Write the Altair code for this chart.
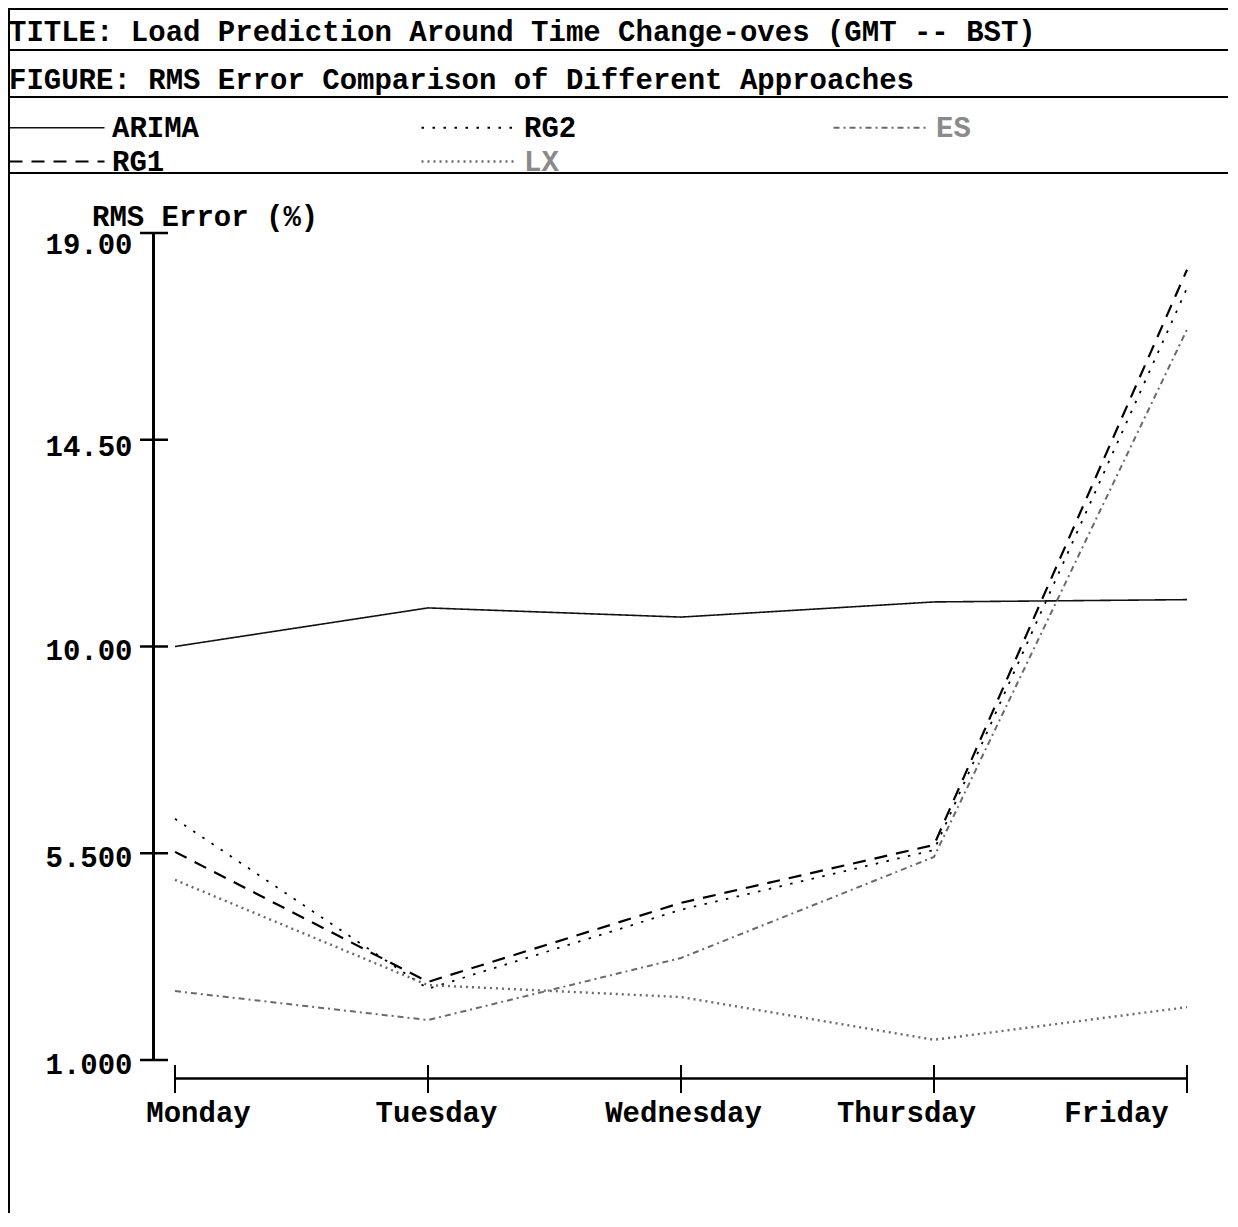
import altair as alt
import pandas as pd

# ---------------- data ----------------
days = ["Monday", "Tuesday", "Wednesday", "Thursday", "Friday"]
series_names = ["ARIMA", "RG2", "ES", "RG1", "LX"]
arima = [10.0, 10.84, 10.64, 10.97, 11.02]
rg1 = [5.53, 2.70, 4.42, 5.68, 18.2]
rg2 = [6.25, 2.55, 4.27, 5.57, 17.8]
es = [2.50, 1.87, 3.22, 5.42, 16.9]
lx = [4.92, 2.63, 2.37, 1.44, 2.15]
y_ticks = [1.0, 5.5, 10.0, 14.5, 19.0]

title_text = "TITLE: Load Prediction Around Time Change-oves (GMT -- BST)"
figure_text = "FIGURE: RMS Error Comparison of Different Approaches"
y_title = "RMS Error (%)"

values = {"ARIMA": arima, "RG1": rg1, "RG2": rg2, "ES": es, "LX": lx}
rows = []
for name, vals in values.items():
    for d, v in zip(days, vals):
        rows.append({"series": name, "day": d, "value": v})
df = pd.DataFrame(rows)

# ---------------- styles ----------------
FONT = "Courier New, Liberation Mono, monospace"
FS = 29
W, H = 1012, 827
PL, PT, PR, PB = 167, 225, 41, 153

colors = ["#111111", "#000000", "#6a6a6a", "#000000", "#6a6a6a"]
dashes = [[1, 0], [2.5, 8.5], [6, 4, 2, 4], [13, 9], [2, 4]]
widths = [1.6, 2.4, 1.5, 2.4, 1.5]

legend = alt.Legend(
    title=None, orient="none", legendX=-167, legendY=-120,
    direction="horizontal", columns=3, columnPadding=220, rowPadding=4,
    symbolType="stroke", symbolSize=9025, symbolStrokeWidth=2,
    labelFont=FONT, labelFontSize=FS, labelFontWeight="bold", labelOffset=6,
    labelLimit=400, clipHeight=29, padding=0, gridAlign="all",
    labelColor={"expr": "(datum.value == 'ES' || datum.value == 'LX') ? '#8a8a8a' : '#000000'"},
)

xaxis = alt.Axis(
    title=None, offset=18, domainWidth=2.5, domainColor="black", ticks=False, grid=False,
    labelFont=FONT, labelFontSize=FS, labelFontWeight="bold", labelColor="black",
    labelPadding=20, labelAngle=0,
    labelOffset={"expr": "datum.value == 'Monday' ? 23 : datum.value == 'Tuesday' ? 8 : datum.value == 'Wednesday' ? 2 : datum.value == 'Thursday' ? -28 : -71"},
)
yaxis = alt.Axis(
    title=None, offset=22, values=y_ticks, format=".4r", domainWidth=3, domainColor="black",
    ticks=False, grid=False, labelFont=FONT, labelFontSize=FS, labelFontWeight="bold",
    labelColor="black", labelPadding=21,
    labelOffset={"expr": "datum.value == 19 ? 11 : datum.value == 14.5 ? 7 : 4"},
    labelFlush=False, labelOverlap=False, labelBaseline="middle",
)

xscale = alt.Scale(type="point", padding=0)
yscale = alt.Scale(domain=[1, 19], nice=False, zero=False)

lines = alt.Chart(df).mark_line().encode(
    x=alt.X("day:N", sort=days, scale=xscale, axis=xaxis),
    y=alt.Y("value:Q", scale=yscale, axis=yaxis),
    color=alt.Color("series:N", scale=alt.Scale(domain=series_names, range=colors), legend=legend),
    strokeDash=alt.StrokeDash("series:N", scale=alt.Scale(domain=series_names, range=dashes), legend=legend),
    strokeWidth=alt.StrokeWidth("series:N", scale=alt.Scale(domain=series_names, range=widths), legend=None),
)

ytick_layer = alt.Chart(pd.DataFrame({"value": y_ticks})).mark_rule(
    strokeWidth=2.5, color="black"
).encode(y=alt.Y("value:Q", scale=yscale, axis=yaxis), x=alt.value(-35), x2=alt.value(-7))

xtick_layer = alt.Chart(pd.DataFrame({"day": days})).mark_rule(
    strokeWidth=2, color="black"
).encode(x=alt.X("day:N", sort=days, scale=xscale, axis=xaxis), y=alt.value(832), y2=alt.value(860))


def text_layer(txt, x, y, baseline="middle"):
    return alt.Chart(pd.DataFrame({"t": [txt]})).mark_text(
        align="left", baseline=baseline, font=FONT, fontSize=FS, fontWeight="bold", color="black"
    ).encode(text="t:N", x=alt.value(x), y=alt.value(y))


def rule_layer(x, x2, y, y2, w=2):
    return alt.Chart(pd.DataFrame({"r": [0]})).mark_rule(strokeWidth=w, color="black").encode(
        x=alt.value(x), x2=alt.value(x2), y=alt.value(y), y2=alt.value(y2)
    )


right_edge = W + PR
bottom_edge = H + PB
frame = [
    rule_layer(-PL, right_edge, -PT + 1, -PT + 1),
    rule_layer(-PL, right_edge, -183, -183),
    rule_layer(-PL, right_edge, -136, -136),
    rule_layer(-PL, right_edge, -60, -60),
    rule_layer(-PL + 1, -PL + 1, -PT, bottom_edge),
]

texts = [
    text_layer(title_text, -PL + 1, -201),
    text_layer(figure_text, -PL + 1, -153),
    text_layer(y_title, -83, -7, baseline="alphabetic"),
]

chart = alt.layer(lines, ytick_layer, xtick_layer, *frame, *texts).properties(
    width=W, height=H,
    padding={"left": PL, "top": PT, "right": PR, "bottom": PB},
    autosize="none",
).configure_view(stroke=None)

chart.save("out.html", embed_options={"renderer": "svg", "actions": False})
